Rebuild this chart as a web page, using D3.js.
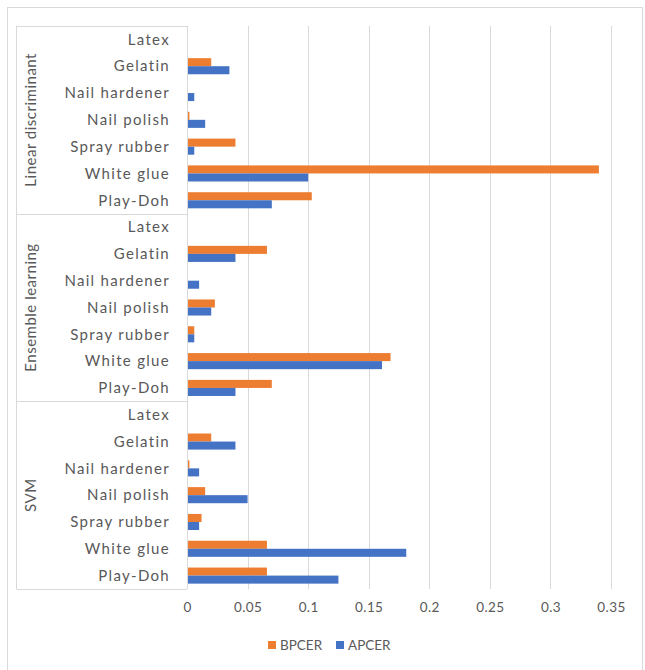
<!DOCTYPE html>
<html>
<head>
<meta charset="utf-8">
<script src="https://cdn.jsdelivr.net/npm/d3@7"></script>
<style>
  html, body { margin: 0; padding: 0; background: #fff; }
  svg { display: block; font-family: Lato, "Open Sans", sans-serif; }
</style>
</head>
<body>
<svg id="chart" width="645" height="670"></svg>
<script>
// Classifier groups, listed top to bottom
const groups = ["Linear discriminant", "Ensemble learning", "SVM"];
// Presentation attack instruments inside each group, top to bottom
const categories = ["Latex", "Gelatin", "Nail hardener", "Nail polish", "Spray rubber", "White glue", "Play-Doh"];
const seriesNames = ["BPCER", "APCER"];

// Error rates per group, in category order
const bpcerLinear   = [0, 0.02, 0, 0.002, 0.04, 0.34, 0.103];
const apcerLinear   = [0, 0.035, 0.006, 0.015, 0.006, 0.1, 0.07];
const bpcerEnsemble = [0, 0.066, 0, 0.023, 0.006, 0.168, 0.07];
const apcerEnsemble = [0, 0.04, 0.01, 0.02, 0.006, 0.161, 0.04];
const bpcerSVM      = [0, 0.02, 0.002, 0.015, 0.012, 0.066, 0.066];
const apcerSVM      = [0, 0.04, 0.01, 0.05, 0.01, 0.181, 0.125];

const xTicks = [0, 0.05, 0.1, 0.15, 0.2, 0.25, 0.3, 0.35];

const seriesByGroup = {
  "Linear discriminant": { BPCER: bpcerLinear, APCER: apcerLinear },
  "Ensemble learning":   { BPCER: bpcerEnsemble, APCER: apcerEnsemble },
  "SVM":                 { BPCER: bpcerSVM, APCER: apcerSVM }
};

const colors = { BPCER: "#ED7D31", APCER: "#4472C4" };
const textColor = "#595959";
const lineColor = "#D9D9D9";

// Flat rows: one per group/category pair
const rows = [];
groups.forEach(g => categories.forEach((c, i) => {
  rows.push({ key: g + "|" + c, group: g, category: c,
              BPCER: seriesByGroup[g].BPCER[i], APCER: seriesByGroup[g].APCER[i] });
}));

const svg = d3.select("#chart");

const plot = { left: 187, right: 611, top: 26, bottom: 589 };
const axisBoxLeft = 16.5;

const x = d3.scaleLinear().domain([0, 0.35]).range([plot.left, plot.right]);
const y = d3.scaleBand().domain(rows.map(r => r.key)).range([plot.top, plot.bottom]).paddingInner(0.4).paddingOuter(0.2);
const ySub = d3.scaleBand().domain(seriesNames).range([0, y.bandwidth()]);

// Outer chart border
svg.append("rect")
  .attr("x", 7.5).attr("y", 7.5).attr("width", 635).attr("height", 670)
  .attr("fill", "none").attr("stroke", lineColor).attr("stroke-width", 1);

// Vertical gridlines
svg.append("g").selectAll("line").data(xTicks.slice(1)).join("line")
  .attr("x1", d => Math.round(x(d)) + 0.5).attr("x2", d => Math.round(x(d)) + 0.5)
  .attr("y1", plot.top).attr("y2", plot.bottom)
  .attr("stroke", lineColor).attr("stroke-width", 1);

// Bars
const rowG = svg.append("g").selectAll("g").data(rows).join("g")
  .attr("transform", d => `translate(0,${y(d.key)})`);
rowG.selectAll("rect").data(d => seriesNames.map(s => ({ s, v: d[s] }))).join("rect")
  .attr("x", x(0))
  .attr("y", d => ySub(d.s))
  .attr("width", d => x(d.v) - x(0))
  .attr("height", ySub.bandwidth())
  .attr("fill", d => colors[d.s]);

// Value axis along the bottom (labels only)
const xAxis = d3.axisBottom(x).tickValues(xTicks).tickSize(0).tickPadding(0)
  .tickFormat(d => d === 0 ? "0" : String(+d.toFixed(2)));
const xg = svg.append("g").attr("transform", `translate(0,${plot.bottom + 13})`).call(xAxis);
xg.select(".domain").remove();
xg.selectAll("text").attr("fill", textColor).attr("font-size", 13.5)
  .attr("letter-spacing", 0.4)
  .attr("font-family", "Lato, 'Open Sans', sans-serif").attr("dy", "0.71em");

// Category axis: the boxed two-level labels on the left
const axisG = svg.append("g").attr("stroke", lineColor).attr("stroke-width", 1).attr("fill", "none");
axisG.append("line").attr("x1", plot.left + 0.5).attr("x2", plot.left + 0.5)
  .attr("y1", plot.top).attr("y2", plot.bottom);
axisG.append("line").attr("x1", axisBoxLeft).attr("x2", axisBoxLeft)
  .attr("y1", plot.top).attr("y2", plot.bottom);
const boundaries = [plot.top].concat(groups.map((g, i) => plot.top + (i + 1) * (plot.bottom - plot.top) / groups.length));
axisG.selectAll("line.h").data(boundaries).join("line").attr("class", "h")
  .attr("x1", axisBoxLeft).attr("x2", plot.left)
  .attr("y1", d => Math.round(d) + 0.5).attr("y2", d => Math.round(d) + 0.5);

// Category labels
svg.append("g").selectAll("text").data(rows).join("text")
  .attr("x", 170).attr("y", d => y(d.key) + y.bandwidth() / 2)
  .attr("dy", "0.35em").attr("text-anchor", "end")
  .attr("letter-spacing", 1.3)
  .attr("fill", textColor).attr("font-size", 15)
  .text(d => d.category);

// Group labels, rotated
svg.append("g").selectAll("text").data(groups).join("text")
  .attr("transform", (g, i) => `translate(31,${(boundaries[i] + boundaries[i + 1]) / 2}) rotate(-90)`)
  .attr("dy", "0.35em").attr("text-anchor", "middle")
  .attr("letter-spacing", 0.5)
  .attr("fill", textColor).attr("font-size", 15)
  .text(d => d);

// Legend
const legend = svg.append("g").attr("transform", "translate(268,645)");
const legendPos = { BPCER: 0, APCER: 68 };
const li = legend.selectAll("g").data(seriesNames).join("g")
  .attr("transform", d => `translate(${legendPos[d]},0)`);
li.append("rect").attr("x", 0).attr("y", -4).attr("width", 8).attr("height", 8)
  .attr("fill", d => colors[d]);
li.append("text").attr("x", 12).attr("y", 0).attr("dy", "0.35em")
  .attr("fill", textColor).attr("font-size", 13.5).text(d => d);
</script>
</body>
</html>
